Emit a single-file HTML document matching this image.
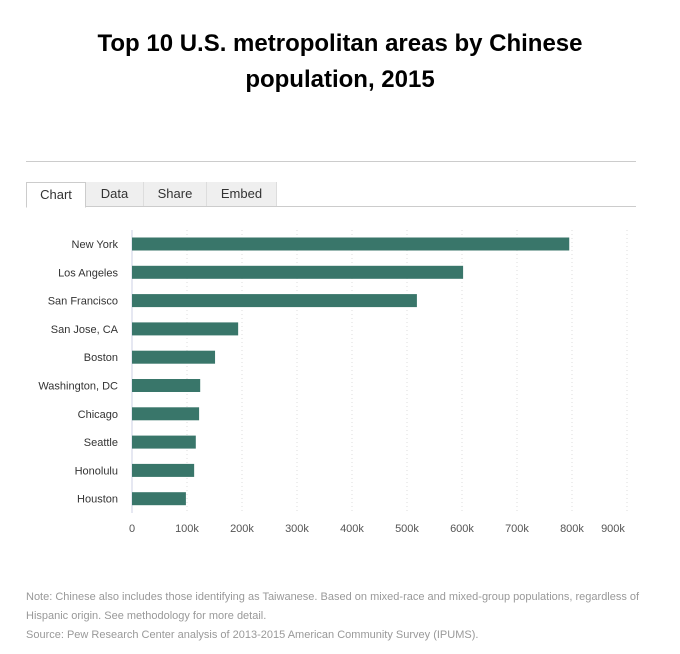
<!DOCTYPE html>
<html><head><meta charset="utf-8"><style>
body{margin:0;background:#fff;font-family:"Liberation Sans",sans-serif;}
#wrap{position:relative;width:680px;height:654px;overflow:hidden;}
h1{position:absolute;left:0;width:680px;top:26px;margin:0;text-align:center;font-size:24px;line-height:36px;font-weight:bold;color:#000;}
.hr{position:absolute;left:26px;width:610px;top:161px;height:1px;background:#ccc;}
.tabs{position:absolute;left:26px;top:182px;width:610px;height:24px;border-bottom:1px solid #ccc;}
.tab{position:absolute;top:0;height:24px;line-height:24px;text-align:center;font-size:13px;color:#333;background:#efefef;border-right:1px solid #ddd;}
.tab.active{background:#fff;border:1px solid #ccc;border-bottom:1px solid #fff;height:24px;}
.note{position:absolute;left:26px;top:588px;width:620px;font-size:11px;line-height:19px;color:#999;}
</style></head><body>
<div id="wrap">
<h1>Top 10 U.S. metropolitan areas by Chinese<br>population, 2015</h1>
<div class="hr"></div>
<div class="tabs">
<div class="tab active" style="left:0;width:58px;">Chart</div>
<div class="tab" style="left:60px;width:57px;">Data</div>
<div class="tab" style="left:118px;width:62px;">Share</div>
<div class="tab" style="left:181px;width:69px;">Embed</div>
</div>
<svg id="chart" width="680" height="654" style="position:absolute;left:0;top:0"></svg>
<div class="note">Note: Chinese also includes those identifying as Taiwanese. Based on mixed-race and mixed-group populations, regardless of Hispanic origin. See methodology for more detail.<br>Source: Pew Research Center analysis of 2013-2015 American Community Survey (IPUMS).</div>
</div>
<script>
const categories=["New York","Los Angeles","San Francisco","San Jose, CA","Boston","Washington, DC","Chicago","Seattle","Honolulu","Houston"];
const values=[795000,602000,518000,193000,151000,124000,122000,116000,113000,98000];
const ticks=[0,100000,200000,300000,400000,500000,600000,700000,800000,900000];
const tickLabels=["0","100k","200k","300k","400k","500k","600k","700k","800k","900k"];
const NS="http://www.w3.org/2000/svg";
const svg=document.getElementById('chart');
const x0=132,pxPer=55/100000,yTop=230,yBot=513,step=28.3,y0=244,bh=13;
const X=v=>x0+v*pxPer;
const Y=i=>y0+i*step;
function mk(t,a){const e=document.createElementNS(NS,t);for(const k in a)e.setAttribute(k,a[k]);svg.appendChild(e);return e;}
ticks.forEach((t,i)=>{
  if(i>0){const g=mk('line',{x1:X(t),x2:X(t),y1:yTop,y2:yBot,stroke:'#ddd','stroke-dasharray':'1,3'});
  
  }
  const lx=i===9?X(t)-14:X(t);
  const tx=mk('text',{x:lx,y:532,'text-anchor':'middle','font-size':11,fill:'#555','font-family':'Liberation Sans, sans-serif'});
  tx.textContent=tickLabels[i];
  
  
});
const ax=mk('line',{x1:x0,x2:x0,y1:yTop,y2:yBot,stroke:'#dde0ee','stroke-width':1.5});


categories.forEach((c,i)=>{
  const r=mk('rect',{x:x0,y:Y(i)-bh/2,width:X(values[i])-x0,height:bh,fill:'#39766a'});
  
  
  const t=mk('text',{x:118,y:Y(i)+4,'text-anchor':'end','font-size':11,fill:'#333','font-family':'Liberation Sans, sans-serif'});
  t.textContent=c;
  
  
});
</script>
</body></html>
